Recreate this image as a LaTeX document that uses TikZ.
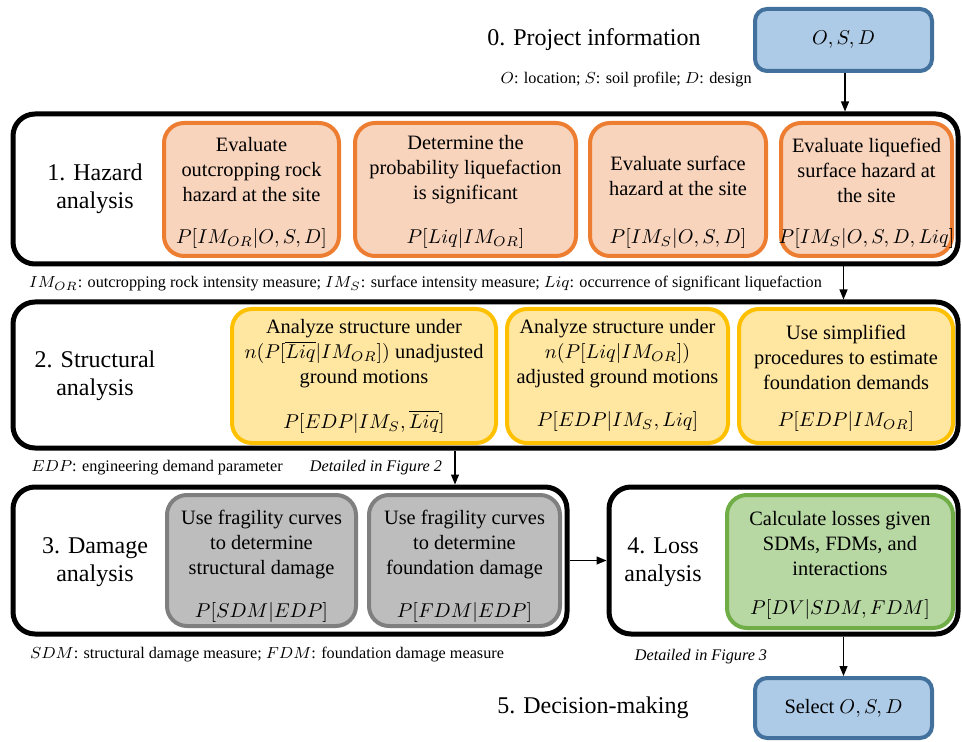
\documentclass[tikz,border=0pt]{standalone}
\usepackage{amsmath}
\usepackage{fontspec}
\setmainfont{Liberation Serif}
\usetikzlibrary{arrows.meta}
\usetikzlibrary{positioning}

\definecolor{infofill}{HTML}{ADCBE7}
\definecolor{infoline}{HTML}{41719C}
\definecolor{hazfill}{HTML}{F8D4BD}
\definecolor{hazline}{HTML}{ED7D31}
\definecolor{strfill}{HTML}{FFE7A2}
\definecolor{strline}{HTML}{FFC000}
\definecolor{dmgfill}{HTML}{BDBDBD}
\definecolor{dmgline}{HTML}{7F7F7F}
\definecolor{lossfill}{HTML}{B7D7A3}
\definecolor{lossline}{HTML}{70AD47}

\tikzset{
  outerbox/.style={draw, line width=2.5pt, rounded corners=11pt, inner sep=0pt},
  taskbox/.style={draw, line width=2pt, rounded corners=10pt, inner sep=0pt},
  infobox/.style={draw=infoline, fill=infofill, line width=2pt, rounded corners=6pt,
    minimum width=88.5pt, minimum height=31pt, font=\fontsize{10.2}{12}\selectfont},
  steplabel/.style={align=center, inner sep=0pt, font=\fontsize{12}{14}\selectfont},
  boxtext/.style={align=center, inner sep=0pt, font=\fontsize{10.2}{12.5}\selectfont},
  probtext/.style={inner sep=0pt, font=\fontsize{10.2}{12.5}\selectfont},
  capt/.style={inner sep=0pt, font=\fontsize{8.1}{10}\selectfont},
  arr/.style={-{Triangle[length=5pt, width=4pt]}, line width=0.6pt}
}

\begin{document}
\begin{tikzpicture}[x=0.5pt, y=-0.5pt]
\useasboundingbox (0,0) rectangle (962,742); % reference size in px

% 0. project information
\node[infobox] (osd) at (843.5,40) {$O, S, D$};
\node[steplabel, left=26pt of osd] (s0) {0. Project information};
\node[capt, anchor=east] (c0) at (752,80) {$O$: location; $S$: soil profile; $D$: design};

% 1. hazard
\node[outerbox, minimum width=472.5pt, minimum height=75pt] (hz) at (485.5,189) {};
\node[steplabel] (s1) at (95,189) {1. Hazard\\analysis};
\node[taskbox, draw=hazline, fill=hazfill, minimum width=87.5pt, minimum height=66.5pt] (h1) at (251.5,189.5) {};
\node[taskbox, draw=hazline, fill=hazfill, minimum width=110.5pt, minimum height=66.5pt] (h2) at (465.5,189.5) {};
\node[taskbox, draw=hazline, fill=hazfill, minimum width=88pt, minimum height=66.5pt] (h3) at (678,189.5) {};
\node[taskbox, draw=hazline, fill=hazfill, minimum width=85.5pt, minimum height=66.5pt] (h4) at (866.5,189.5) {};
\node[boxtext] (h1t) at ([yshift=9.75pt]h1.center) {Evaluate\\outcropping rock\\hazard at the site};
\node[boxtext] (h2t) at ([yshift=9.75pt]h2.center) {Determine the\\probability liquefaction\\is significant};
\node[boxtext] (h3t) at ([yshift=6.75pt]h3.center) {Evaluate surface\\hazard at the site};
\node[boxtext] (h4t) at ([yshift=9.75pt]h4.center) {Evaluate liquefied\\surface hazard at\\the site};
\node[probtext] (h1p) at ([yshift=9.5pt]h1.south) {$P[IM_{OR}|O,S,D]$};
\node[probtext] (h2p) at ([yshift=9.5pt]h2.south) {$P[Liq|IM_{OR}]$};
\node[probtext] (h3p) at ([yshift=9.5pt]h3.south) {$P[IM_S|O,S,D]$};
\node[probtext] (h4p) at ([yshift=9.5pt]h4.south) {$P[IM_S|O,S,D,Liq]$};
\node[capt] (c1) at (425.5,284) {$IM_{OR}$: outcropping rock intensity measure; $IM_S$: surface intensity measure; $Liq$: occurrence of significant liquefaction};

% 2. structural
\node[outerbox, minimum width=472.5pt, minimum height=73pt] (st) at (485.5,375) {};
\node[steplabel] (s2) at (95,376) {2. Structural\\analysis};
\node[taskbox, draw=strline, fill=strfill, minimum width=132pt, minimum height=67pt] (a1) at (364,376) {};
\node[taskbox, draw=strline, fill=strfill, minimum width=110.5pt, minimum height=67pt] (a2) at (617.5,376) {};
\node[taskbox, draw=strline, fill=strfill, minimum width=107pt, minimum height=67pt] (a3) at (846,376) {};
\node[boxtext] (a1t) at ([yshift=11pt]a1.center) {Analyze structure under\\$n(P[\overline{Liq}|IM_{OR}])$ unadjusted\\ground motions};
\node[boxtext] (a2t) at ([yshift=11pt]a2.center) {Analyze structure under\\$n(P[Liq|IM_{OR}])$\\adjusted ground motions};
\node[boxtext] (a3t) at ([yshift=9.25pt]a3.center) {Use simplified\\procedures to estimate\\foundation demands};
\node[probtext] (a1p) at ([yshift=11.5pt]a1.south) {$P[EDP|IM_S,\overline{Liq}]$};
\node[probtext] (a2p) at ([yshift=11.5pt]a2.south) {$P[EDP|IM_S,Liq]$};
\node[probtext] (a3p) at ([yshift=11.5pt]a3.south) {$P[EDP|IM_{OR}]$};
\node[capt] (c2) at (157,468) {$EDP$: engineering demand parameter};
\node[capt] (f2) at (376,468) {\itshape Detailed in Figure 2};

% 3. damage
\node[outerbox, minimum width=277pt, minimum height=73.5pt] (dm) at (290,560.5) {};
\node[steplabel] (s3) at (95,562) {3. Damage\\analysis};
\node[taskbox, draw=dmgline, fill=dmgfill, minimum width=94.5pt, minimum height=65.5pt] (d1) at (261.5,560.5) {};
\node[taskbox, draw=dmgline, fill=dmgfill, minimum width=95.5pt, minimum height=65.5pt] (d2) at (464.5,560.5) {};
\node[boxtext] (d1t) at ([yshift=7.75pt]d1.center) {Use fragility curves\\to determine\\structural damage};
\node[boxtext] (d2t) at ([yshift=7.75pt]d2.center) {Use fragility curves\\to determine\\foundation damage};
\node[probtext] (d1p) at ([yshift=8pt]d1.south) {$P[SDM|EDP]$};
\node[probtext] (d2p) at ([yshift=8pt]d2.south) {$P[FDM|EDP]$};
\node[capt] (c3) at (267,655) {$SDM$: structural damage measure; $FDM$: foundation damage measure};

% 4. loss
\node[outerbox, minimum width=174.5pt, minimum height=73.5pt] (ls) at (783.5,560.5) {};
\node[steplabel] (s4) at (663,562) {4. Loss\\analysis};
\node[taskbox, draw=lossline, fill=lossfill, minimum width=113pt, minimum height=66.5pt] (l1) at (840,561.5) {};
\node[boxtext] (l1t) at ([yshift=8.75pt]l1.center) {Calculate losses given\\SDMs, FDMs, and\\interactions};
\node[probtext] (l1p) at ([yshift=10.5pt]l1.south) {$P[DV|SDM,FDM]$};
\node[capt] (f3) at (701,657) {\itshape Detailed in Figure 3};

% 5. decision
\node[infobox, minimum height=30pt] (sel) at (843.5,708) {Select $O, S, D$};
\node[steplabel, left=32pt of sel] (s5) {5. Decision-making};

% flow
\coordinate (dmin) at (455,0);
\draw[arr] (osd.south -| 845,0) -- (hz.north -| 845,0);
\draw[arr] (hz.south -| osd.south) -- (st.north -| osd.south);
\draw[arr] (st.south -| dmin) -- (dm.north -| dmin);
\draw[arr] (dm.east) -- (ls.west);
\draw[arr] (ls.south -| sel.north) -- (sel.north);
\end{tikzpicture}
\end{document}
